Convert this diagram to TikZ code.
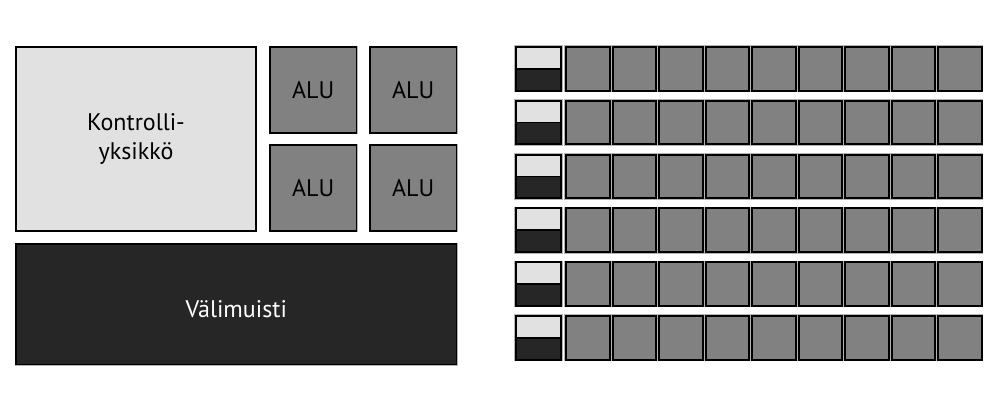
\documentclass[tikz,border=0pt]{standalone}
\usepackage{fontspec}
\setmainfont{PT Sans}
\definecolor{lightf}{HTML}{E0E1E0}
\definecolor{midf}{HTML}{808180}
\definecolor{darkf}{HTML}{262626}
\definecolor{halo}{HTML}{B4B4B4}
\tikzset{
  blk/.style={draw=black, line width=1.4pt, inner sep=0pt, outer sep=0pt, anchor=north west,
    preaction={draw=halo, line width=2.8pt}, font=\fontsize{24}{29}\selectfont, align=center},
  cellbox/.style={draw=black, line width=2pt, inner sep=0pt, outer sep=0pt, anchor=north west,
    minimum width=43.5pt, minimum height=43.5pt, fill=midf,
    preaction={draw=halo, line width=3.4pt}},
}
\begin{document}
\begin{tikzpicture}[x=1pt,y=-1pt]
\useasboundingbox[fill=white] (0,0) rectangle (1000,404);
% left part
\node[blk, fill=lightf, minimum width=240pt, minimum height=184pt] (ctrl) at (16,47) {Kontrolli-\\yksikkö};
\node[blk, fill=midf, minimum width=86.5pt, minimum height=86pt] (alu1) at (270,47) {ALU};
\node[blk, fill=midf, minimum width=86.5pt, minimum height=86pt] (alu2) at (370,47) {ALU};
\node[blk, fill=midf, minimum width=86.5pt, minimum height=86pt] (alu3) at (270,145) {ALU};
\node[blk, fill=midf, minimum width=86.5pt, minimum height=86pt] (alu4) at (370,145) {ALU};
\node[blk, fill=darkf, text=white, minimum width=440.5pt, minimum height=120.5pt, text height=26pt, text depth=0pt] (cache) at (16,244) {Välimuisti};
% right grid
\foreach \r in {0,...,5} {
  \node[cellbox, minimum width=45pt, fill=darkf] (s\r) at (516,{47+53.8*\r}) {};
  \fill[lightf] (s\r.north west) rectangle (s\r.east);
  \draw[line width=1.6pt] (s\r.west) -- (s\r.east);
  \draw[line width=2pt] (s\r.north west) rectangle (s\r.south east);
  \foreach \c in {1,...,9} {
    \node[cellbox] (c\r-\c) at ({566+46.5*(\c-1)},{47+53.8*\r}) {};
  }
}
\end{tikzpicture}
\end{document}
